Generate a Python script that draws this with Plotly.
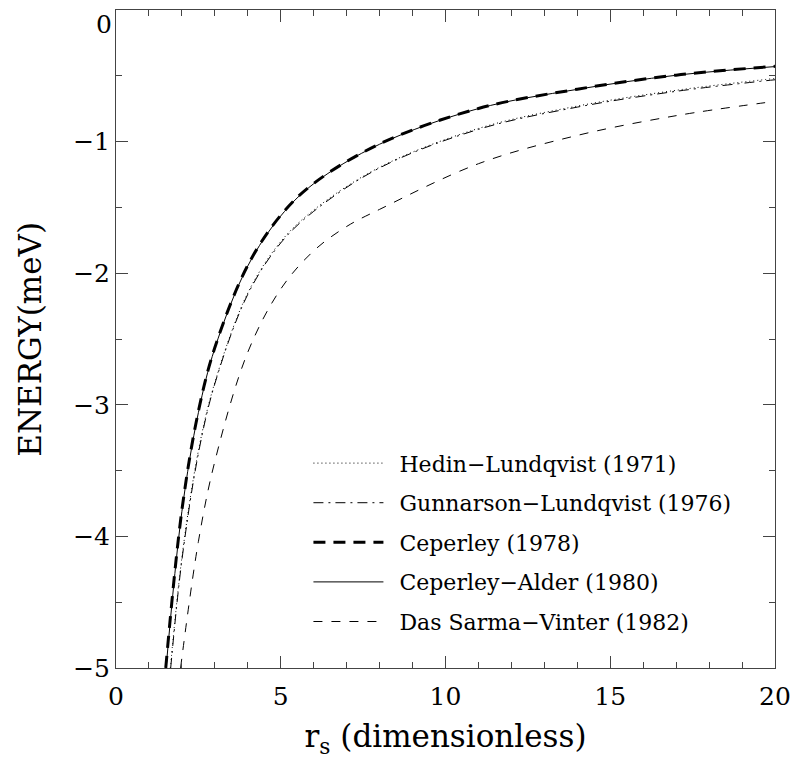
import plotly.graph_objects as go

# ---- data ----
rs_ca = [1.52, 2.0, 2.5, 3.0, 4.0, 5.0, 6.0, 8.0, 11.0, 14.0, 17.0, 20.0]
e_ca = [-5.0, -3.81, -3.06, -2.57, -1.945, -1.565, -1.32, -1.02, -0.749, -0.603, -0.496, -0.43]

rs_cep = [1.51, 2.0, 2.5, 3.0, 4.0, 5.0, 6.0, 8.0, 11.0, 14.0, 17.0, 20.0]
e_cep = [-5.0, -3.80, -3.05, -2.565, -1.94, -1.56, -1.318, -1.018, -0.748, -0.602, -0.495, -0.428]

rs_gl = [1.66, 2.0, 2.5, 3.0, 4.0, 5.0, 6.0, 8.0, 11.0, 14.0, 17.0, 20.0]
e_gl = [-5.0, -4.18, -3.37, -2.84, -2.16, -1.77, -1.53, -1.20, -0.907, -0.738, -0.618, -0.53]

rs_hl = [1.65, 2.0, 2.5, 3.0, 4.0, 5.0, 6.0, 8.0, 11.0, 14.0, 17.0, 20.0]
e_hl = [-5.0, -4.16, -3.35, -2.83, -2.15, -1.76, -1.52, -1.195, -0.90, -0.73, -0.61, -0.52]

rs_dsv = [1.96, 2.5, 3.0, 4.0, 5.0, 6.0, 7.0, 8.0, 11.0, 14.0, 17.0, 19.7]
e_dsv = [-5.0, -4.04, -3.43, -2.6, -2.12, -1.83, -1.645, -1.515, -1.168, -0.953, -0.803, -0.704]

names = ["Hedin\u2212Lundqvist (1971)", "Gunnarson\u2212Lundqvist (1976)",
         "Ceperley (1978)", "Ceperley\u2212Alder (1980)", "Das Sarma\u2212Vinter (1982)"]

x_ticks = [0, 5, 10, 15, 20]
x_ticktext = ["0", "5", "10", "15", "20"]
y_ticks = [-1, -2, -3, -4, -5]
y_ticktext = ["\u22121", "\u22122", "\u22123", "\u22124", "\u22125"]
y_top_value = 0
y_top_label = "0"
x_title = "r<sub>s</sub> (dimensionless)"
y_title = "ENERGY(meV)"

FONT = "DejaVu Serif"

fig = go.Figure()
series = [
    (rs_hl, e_hl, names[0], dict(color="black", width=1, dash="1px,3px")),
    (rs_gl, e_gl, names[1], dict(color="black", width=1, dash="10px,5px,2px,5px")),
    (rs_cep, e_cep, names[2], dict(color="black", width=3, dash="12px,8px")),
    (rs_ca, e_ca, names[3], dict(color="black", width=1)),
    (rs_dsv, e_dsv, names[4], dict(color="black", width=1, dash="9px,9px")),
]
for i, (x, y, n, ln) in enumerate(series):
    fig.add_trace(go.Scatter(x=x, y=y, name="\u2002" + n, mode="lines",
                             line=dict(shape="spline", smoothing=1.0, **ln),
                             legendgroup=f"g{i}"))

axis_common = dict(
    showgrid=False, zeroline=False, showline=True, linecolor="#444", linewidth=1,
    mirror="allticks", ticks="inside", ticklen=12, tickwidth=1, tickcolor="#444",
    tickfont=dict(family=FONT, size=25, color="black"),
)
fig.update_xaxes(range=[0, 20], tickvals=x_ticks, ticktext=x_ticktext,
                 minor=dict(dtick=1, ticks="inside", ticklen=6, tickcolor="#444", showgrid=False),
                 title=dict(text=x_title, font=dict(family=FONT, size=31, color="black"), standoff=15),
                 ticklabelstandoff=6, **axis_common)
fig.update_yaxes(range=[-5, 0], tickvals=y_ticks + [y_top_value], ticktext=y_ticktext + [""],
                 minor=dict(dtick=0.5, ticks="inside", ticklen=6, tickcolor="#444", showgrid=False),
                 ticklabelstandoff=0, **axis_common)

# y-axis title placed as in the reference (further left than plotly's standoff allows)
fig.add_annotation(x=-0.131, xref="paper", y=0.5, yref="paper", text=y_title, textangle=-90,
                   showarrow=False, xanchor="center", yanchor="middle",
                   font=dict(family=FONT, size=31, color="black"))

# top "0" label sits just below the frame edge, as in the reference
fig.add_annotation(x=0, xref="paper", y=y_top_value, yref="y", text=y_top_label,
                   showarrow=False, xanchor="right", yanchor="top", xshift=-2, yshift=2,
                   font=dict(family=FONT, size=25, color="black"))

fig.update_layout(
    width=797, height=762,
    margin=dict(l=116, r=22, t=10, b=94, autoexpand=False),
    plot_bgcolor="white", paper_bgcolor="white",
    showlegend=True,
    legend=dict(x=0.292, y=0.343, xanchor="left", yanchor="top", bgcolor="rgba(0,0,0,0)",
                font=dict(family=FONT, size=22, color="black"), itemwidth=70,
                tracegroupgap=8, traceorder="grouped"),
)
fig.write_html("out.html")
